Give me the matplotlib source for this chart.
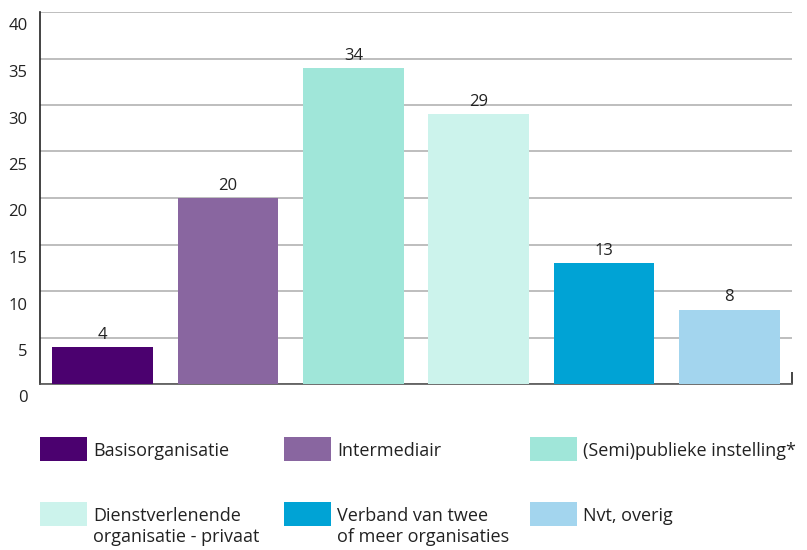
import matplotlib
matplotlib.use("Agg")
import matplotlib.pyplot as plt
from matplotlib.patches import Rectangle
from matplotlib.transforms import ScaledTranslation

plt.rcParams['font.family'] = ['Open Sans', 'DejaVu Sans']

# data
categories = ["Basisorganisatie", "Intermediair", "(Semi)publieke instelling*",
              "Dienstverlenende\norganisatie - privaat", "Verband van twee\nof meer organisaties",
              "Nvt, overig"]
values = [4, 20, 34, 29, 13, 8]
colors = ["#4b016f", "#8966a0", "#a0e6d9", "#ccf3ec", "#00a3d5", "#a3d5ee"]
yticks = [0, 5, 10, 15, 20, 25, 30, 35, 40]

W, H = 807, 550
fig = plt.figure(figsize=(W / 100, H / 100), dpi=100)
ax = fig.add_axes([40 / W, (H - 384) / H, (792 - 40) / W, (384 - 12) / H])

x = list(range(len(values)))
bars = ax.bar(x, values, width=0.805, color=colors, zorder=3)
for b, v in zip(bars, values):
    ax.text(b.get_x() + b.get_width() / 2, v + 0.45, str(v), ha='center', va='bottom',
            fontsize=12, color='#222222', zorder=4)

ax.set_xlim(-0.5, len(values) - 0.5)
ax.set_ylim(0, 40)
ax.set_yticks(yticks)
ax.yaxis.grid(True, color='#b3b3b3', linewidth=1.2, zorder=0)
ax.set_axisbelow(True)

# small tick at the right end of the x axis
ax.set_xticks([len(values) - 0.5])
ax.set_xticklabels([])
ax.tick_params(axis='x', direction='in', length=9, width=1.4, color='#444444')
ax.tick_params(axis='y', length=0, labelsize=12, labelcolor='#222222', pad=9)
off = ScaledTranslation(0, -9 / 72, fig.dpi_scale_trans)
for lab in ax.get_yticklabels():
    lab.set_transform(lab.get_transform() + off)

for s in ['top', 'right']:
    ax.spines[s].set_visible(False)
ax.spines['left'].set_color('#222222')
ax.spines['left'].set_linewidth(1.2)
ax.spines['bottom'].set_color('#555555')
ax.spines['bottom'].set_linewidth(1.2)

# legend, drawn by hand in figure pixels
col_x = [40, 284, 530]
row_y = [437, 502]
for i, (lab, c) in enumerate(zip(categories, colors)):
    px = col_x[i % 3]
    py = row_y[i // 3]
    fig.add_artist(Rectangle((px / W, 1 - (py + 24) / H), 47 / W, 24 / H,
                             transform=fig.transFigure, color=c, linewidth=0))
    fig.text((px + 53) / W, 1 - (py + 5) / H, lab, ha='left', va='top',
             fontsize=13, color='#222222', linespacing=1.2)

fig.savefig("out.png", dpi=100)
